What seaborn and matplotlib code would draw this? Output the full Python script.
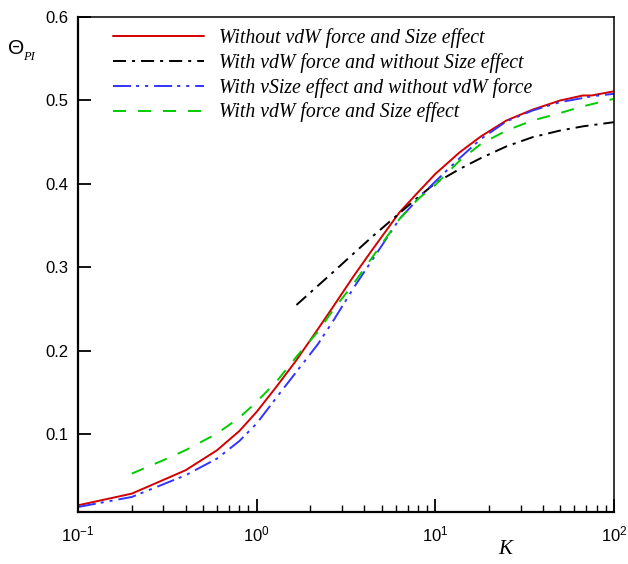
import numpy as np
import pandas as pd
import seaborn as sns
import matplotlib.pyplot as plt
from matplotlib.ticker import LogLocator, LogFormatterSciNotation, FixedLocator, NullLocator

# values
k_full = [0.1, 0.2, 0.4, 0.6, 0.8, 1.0, 1.3, 1.67, 2.2, 2.7, 3.5, 4.5, 6.3, 8, 10,
          13.7, 18, 25, 35, 50, 67, 75, 100]
theta_plain = [0.015, 0.029, 0.057, 0.081, 0.104, 0.127, 0.158, 0.189, 0.226, 0.254, 0.290,
               0.323, 0.366, 0.390, 0.412, 0.438, 0.457, 0.476, 0.489, 0.500, 0.506, 0.506, 0.511]
theta_size = [0.013, 0.025, 0.051, 0.071, 0.092, 0.113, 0.145, 0.175, 0.208, 0.237, 0.276,
              0.311, 0.358, 0.382, 0.403, 0.431, 0.454, 0.475, 0.488, 0.498, 0.503, 0.505, 0.508]

k_vdw = [1.67, 2.2, 2.7, 3.5, 4.5, 6.3, 8, 10, 13.7, 18, 25, 35, 50, 67, 100]
theta_vdw = [0.255, 0.278, 0.295, 0.317, 0.338, 0.365, 0.384, 0.401, 0.418, 0.431, 0.445,
             0.456, 0.464, 0.469, 0.474]

k_both = [0.2, 0.3, 0.4, 0.6, 0.8, 1.0, 1.3, 1.67, 2.2, 2.7, 3.5, 4.5, 6.3, 8, 10,
          13.7, 18, 25, 35, 50, 67, 100]
theta_both = [0.053, 0.069, 0.081, 0.101, 0.120, 0.139, 0.164, 0.193, 0.223, 0.250, 0.281,
              0.314, 0.358, 0.382, 0.399, 0.428, 0.448, 0.464, 0.476, 0.485, 0.493, 0.502]

labels = ['Without vdW force and Size effect',
          'With vdW force and without Size effect',
          'With vSize effect and without vdW force',
          'With vdW force and Size effect']
colors = ['#d40000', '#000000', '#3333ff', '#00cc00']
dash_styles = ['', (9.4, 4.3, 2.2, 4.3), (13, 3.6, 2.2, 4.3, 2.2, 4.3), (9.4, 8.6)]

frames = []
for lab, kk, tt in zip(labels, [k_full, k_vdw, k_full, k_both],
                       [theta_plain, theta_vdw, theta_size, theta_both]):
    frames.append(pd.DataFrame({'K': kk, 'theta': tt, 'case': lab}))
df = pd.concat(frames, ignore_index=True)

sns.set_style('ticks', {'axes.edgecolor': 'black', 'xtick.color': 'black',
                        'ytick.color': 'black', 'text.color': 'black'})
plt.rcParams['font.family'] = ['Liberation Sans', 'DejaVu Sans']
plt.rcParams['mathtext.fontset'] = 'custom'
plt.rcParams['mathtext.rm'] = 'Liberation Sans'
plt.rcParams['mathtext.it'] = 'Liberation Serif:italic'
plt.rcParams['axes.unicode_minus'] = False
plt.rcParams['lines.scale_dashes'] = False

fig = plt.figure(figsize=(6.28, 5.64), dpi=100)
ax = fig.add_axes([78 / 628, 1 - 512 / 564, 536 / 628, 495 / 564])

sns.lineplot(data=df, x='K', y='theta', hue='case', style='case',
             hue_order=labels, style_order=labels,
             palette=dict(zip(labels, colors)), dashes=dict(zip(labels, dash_styles)),
             sort=False, estimator=None, linewidth=1.4, ax=ax)

ax.set_xscale('log')
ax.set_xlim(0.1, 100)
ax.set_ylim(0.007, 0.6)

ax.xaxis.set_major_locator(LogLocator(base=10))
ax.xaxis.set_major_formatter(LogFormatterSciNotation())
ax.xaxis.set_minor_locator(LogLocator(base=10, subs=np.arange(2, 10)))
ax.yaxis.set_major_locator(FixedLocator([0.1, 0.2, 0.3, 0.4, 0.5, 0.6]))
ax.yaxis.set_minor_locator(NullLocator())

ax.tick_params(which='major', direction='in', length=9.5, width=1.3, labelsize=12,
               top=False, right=False, colors='black')
ax.tick_params(axis='x', which='major', pad=9)
ax.tick_params(axis='y', which='major', pad=7)
ax.tick_params(which='minor', direction='in', length=5, width=1.0, top=False, right=False,
               colors='black')

for side in ['left', 'bottom']:
    ax.spines[side].set_linewidth(1.6)
for side in ['top', 'right']:
    ax.spines[side].set_linewidth(1.1)

ax.set_xlabel('')
ax.set_ylabel('')
fig.text(505 / 628, 1 - 550 / 564, 'K', fontsize=15, family='Liberation Serif',
         style='italic', ha='center', va='center')
fig.text(8 / 628, 1 - 48 / 564, 'Θ', fontsize=15, ha='left', va='center')
fig.text(23 / 628, 1 - 57 / 564, 'PI', fontsize=9, family='Liberation Serif',
         style='italic', ha='left', va='center')

ax.legend(loc='upper left', bbox_to_anchor=(35 / 536, 1 - 11 / 495), frameon=False,
          handlelength=4.6, handletextpad=0.75, labelspacing=0.25, borderpad=0,
          borderaxespad=0, prop={'family': 'Liberation Serif', 'style': 'italic', 'size': 14.2})

fig.savefig('out.png', dpi=100)
